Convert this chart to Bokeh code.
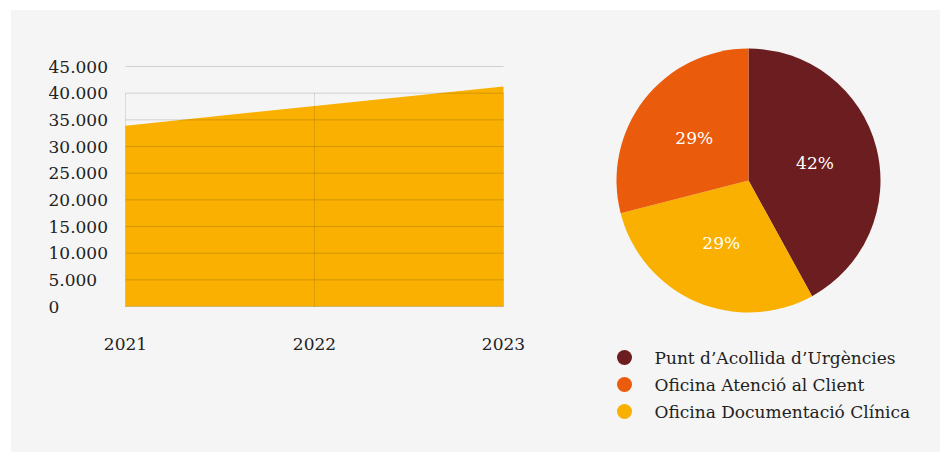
import math
from bokeh.plotting import figure
from bokeh.models import Range1d
from bokeh.layouts import row
from bokeh.embed import file_html
from bokeh.resources import INLINE
from bokeh.core.properties import value

# ---- data ----
years = [2021, 2022, 2023]
visits = [33900, 37600, 41250]
y_ticks = [0, 5000, 10000, 15000, 20000, 25000, 30000, 35000, 40000, 45000]
y_tick_labels = ["0", "5.000", "10.000", "15.000", "20.000", "25.000",
                 "30.000", "35.000", "40.000", "45.000"]
x_tick_labels = ["2021", "2022", "2023"]

services = ["Punt d’Acollida d’Urgències", "Oficina Atenció al Client",
            "Oficina Documentació Clínica"]
shares = [42, 29, 29]
colors = ["#6B1D1F", "#EA5B0C", "#F9B000"]
pie_order = [0, 2, 1]  # clockwise from 12 o'clock

# ---- layout / style ----
FONT = value("DejaVu Serif")
FS = "17px"
BG = "#f5f5f5"
TXT = "#222222"
W1, H = 569, 442
# plot area inside the first figure (pixels from left / top)
PL, PR, PT, PB = 114, 492, 56, 296
LABEL_X = 37  # left edge of y labels (px from left)

xs_per_px = (years[-1] - years[0]) / (PR - PL)
ys_per_px = (y_ticks[-1] - y_ticks[0]) / (PB - PT)
x_start = years[0] - PL * xs_per_px
x_end = years[0] + (W1 - PL) * xs_per_px
y_start = y_ticks[0] - (H - PB) * ys_per_px
y_end = y_ticks[-1] + PT * ys_per_px
label_x = x_start + LABEL_X * xs_per_px

# ---- area chart ----
p1 = figure(width=W1, height=H, output_backend="svg", toolbar_location=None,
            x_range=Range1d(x_start, x_end), y_range=Range1d(y_start, y_end),
            x_axis_type=None, y_axis_type=None, min_border=0)
p1.background_fill_color = BG
p1.border_fill_color = BG
p1.outline_line_color = None
p1.grid.visible = False

p1.varea(x=years, y1=[0] * len(years), y2=visits, fill_color="#F9B000")

# horizontal grid lines (on top of the area)
p1.segment(x0=[years[0]] * len(y_ticks), x1=[years[-1]] * len(y_ticks),
           y0=y_ticks, y1=y_ticks, line_color="#000000", line_alpha=0.15, line_width=1)
# vertical dotted grid lines
p1.segment(x0=years, x1=years, y0=[y_ticks[0]] * len(years), y1=[y_ticks[-2]] * len(years),
           line_color="#000000", line_alpha=0.22, line_width=1, line_dash="1 1")

# tick labels
p1.text(x=[label_x] * len(y_ticks), y=y_ticks, text=y_tick_labels, text_align="left",
        text_baseline="middle", text_color=TXT, text_font=FONT, text_font_size=FS)
p1.text(x=years, y=[y_ticks[0]] * len(years), text=x_tick_labels, text_align="center",
        text_baseline="middle", y_offset=37, text_color=TXT, text_font=FONT,
        text_font_size=FS)

# ---- pie chart ----
W2 = 360
p2 = figure(width=W2, height=H, output_backend="svg", toolbar_location=None,
            x_range=Range1d(0, W2), y_range=Range1d(0, H),
            x_axis_type=None, y_axis_type=None, min_border=0)
p2.background_fill_color = BG
p2.border_fill_color = BG
p2.outline_line_color = None
p2.grid.visible = False

cx, cy, r = 168, 272, 132
total = sum(shares)
cum = 0
st, en, cols, lx, ly, lt = [], [], [], [], [], []
for i in pie_order:
    a0 = math.pi / 2 - 2 * math.pi * cum / total
    cum += shares[i]
    a1 = math.pi / 2 - 2 * math.pi * cum / total
    st.append(a0)
    en.append(a1)
    cols.append(colors[i])
    mid = (a0 + a1) / 2
    lx.append(cx + 0.52 * r * math.cos(mid))
    ly.append(cy + 0.52 * r * math.sin(mid))
    lt.append(f"{shares[i]}%")

p2.wedge(x=cx, y=cy, radius=r, start_angle=st, end_angle=en, direction="clock",
         fill_color=cols, line_color=None)
p2.text(x=lx, y=ly, text=lt, text_align="center", text_baseline="middle",
        text_color="white", text_font=FONT, text_font_size=FS)

# legend
leg_y = [95 - 27 * k for k in range(len(services))]
p2.scatter(x=[44] * len(services), y=leg_y, size=15, fill_color=colors, line_color=None)
p2.text(x=[74] * len(services), y=leg_y, text=services, text_align="left",
        text_baseline="middle", text_color=TXT, text_font=FONT, text_font_size=FS)

layout = row(p1, p2, margin=(10, 0, 0, 11), spacing=0,
             styles={"background-color": BG})
open("out.html", "w").write(file_html(layout, INLINE))
